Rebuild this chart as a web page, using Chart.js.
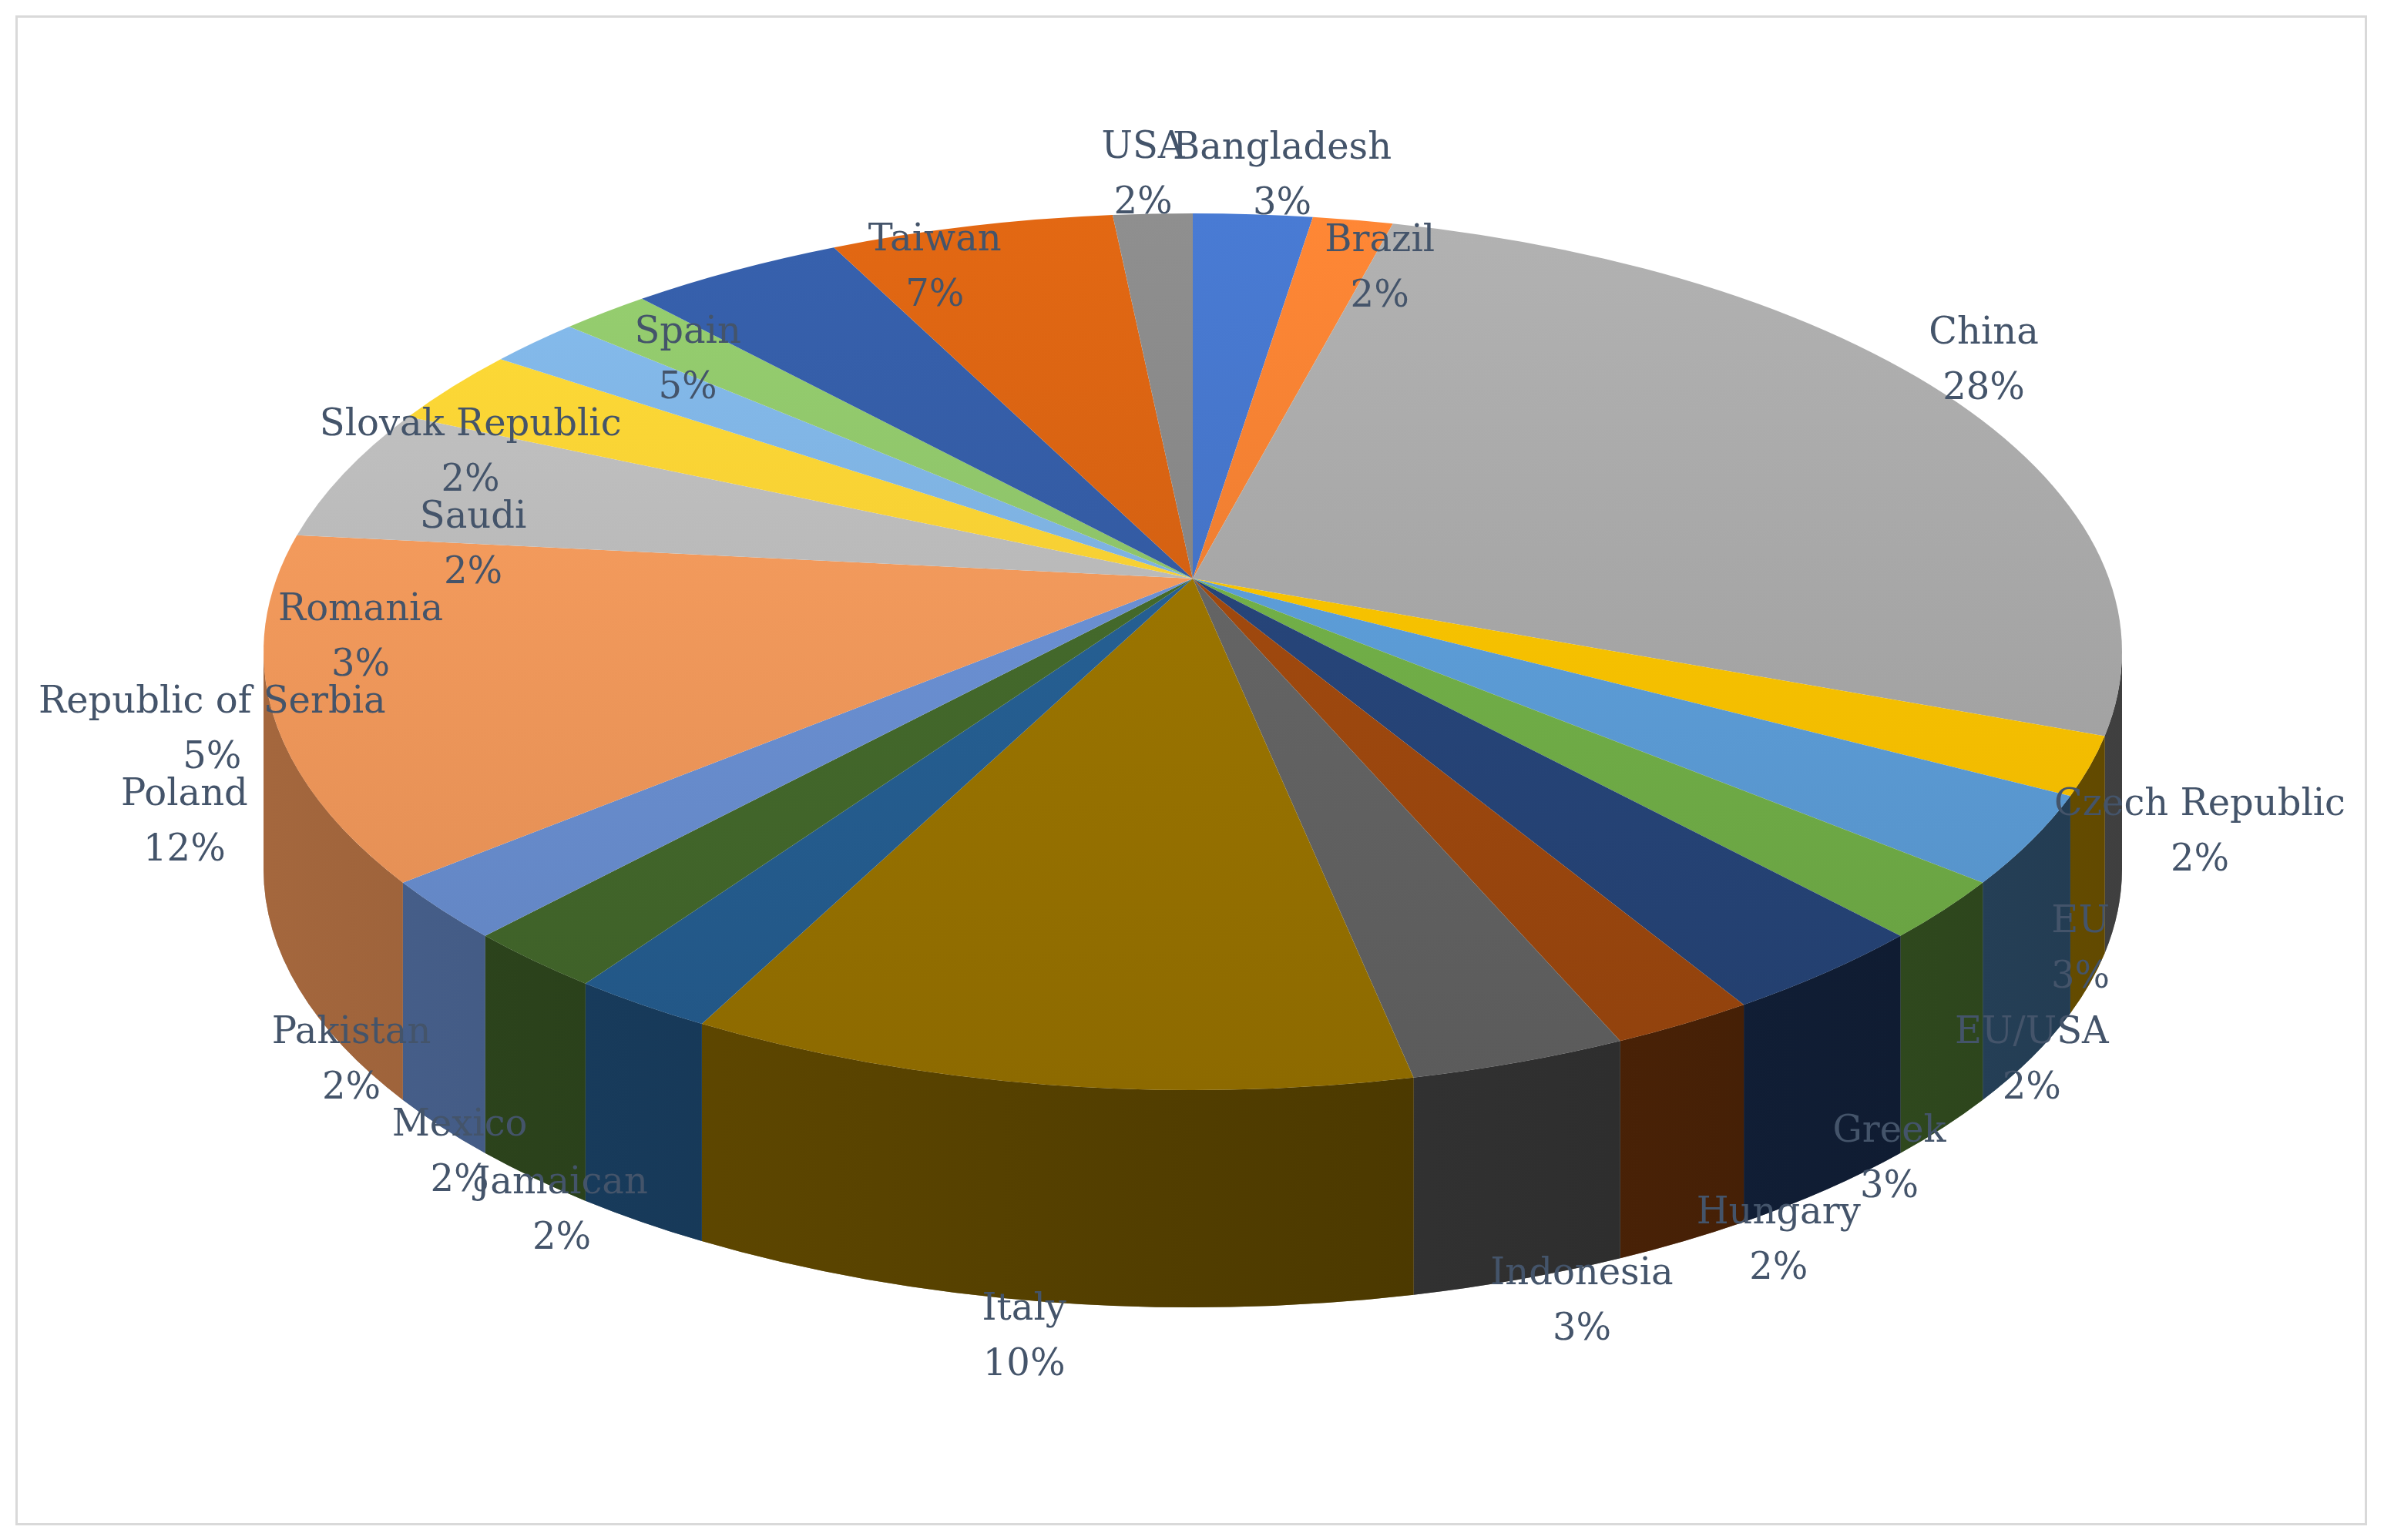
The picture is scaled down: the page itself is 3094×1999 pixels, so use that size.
<!DOCTYPE html>
<html>
<head>
<meta charset="utf-8">
<script src="https://cdn.jsdelivr.net/npm/chart.js@4"></script>
<style>
  html, body { margin: 0; padding: 0; background: #fff; }
  #frame { position: absolute; left: 20px; top: 20px; width: 3052px; height: 1960px; border: 3px solid #d9d9d9; box-sizing: border-box; }
  canvas { position: absolute; left: 0; top: 0; }
</style>
</head>
<body>
<div id="frame"></div>
<canvas id="grafico" width="3094" height="1999"></canvas>
<script>
// dados
const paises = ['Bangladesh', 'Brazil', 'China', 'Czech Republic', 'EU', 'EU/USA', 'Greek', 'Hungary',
  'Indonesia', 'Italy', 'Jamaican', 'Mexico', 'Pakistan', 'Poland', 'Republic of Serbia', 'Romania',
  'Saudi', 'Slovak Republic', 'Spain', 'Taiwan', 'USA'];
const percentuais = [3, 2, 28, 2, 3, 2, 3, 2, 3, 10, 2, 2, 2, 12, 5, 3, 2, 2, 5, 7, 2];
const cores = ['#4472C4', '#ED7D31', '#A5A5A5', '#FFC000', '#5B9BD5', '#70AD47', '#264478', '#9E480E',
  '#636363', '#997300', '#255E91', '#43682B', '#698ED0', '#F1975A', '#B7B7B7', '#FFCD33',
  '#7CAFDD', '#8CC168', '#335AA1', '#D26012', '#848484'];

function shade(hex, f) {
  const n = parseInt(hex.slice(1), 16);
  const r = Math.round(((n >> 16) & 255) * f), g = Math.round(((n >> 8) & 255) * f), b = Math.round((n & 255) * f);
  return `rgb(${Math.min(r,255)},${Math.min(g,255)},${Math.min(b,255)})`;
}

// perspectiva: fatias da frente ficam maiores
const persp = a => a - 0.3 * Math.cos(a);

// desenha a pizza em "3D" usando os ângulos dos arcos calculados pelo Chart.js
const pizza3d = {
  id: 'pizza3d',
  beforeDatasetsDraw(chart) {
    const ctx = chart.ctx;
    const arcs = chart.getDatasetMeta(0).data;
    const cx = 1548, apexY = 751, cy = 846, rx = 1206, ry = 569, depth = 282;

    // paredes laterais (metade da frente)
    arcs.forEach((arc, i) => {
      const t1 = Math.max(persp(arc.startAngle), 0), t2 = Math.min(persp(arc.endAngle), Math.PI);
      if (t2 <= t1) return;
      const g = ctx.createLinearGradient(cx - rx, 0, cx + rx, 0);
      g.addColorStop(0, shade(cores[i], 0.8));
      g.addColorStop(1, shade(cores[i], 0.3));
      ctx.beginPath();
      ctx.ellipse(cx, cy, rx, ry, 0, t1, t2);
      ctx.ellipse(cx, cy + depth, rx, ry, 0, t2, t1, true);
      ctx.closePath();
      ctx.fillStyle = shade(cores[i], 0.5);
      ctx.fill();
      ctx.fillStyle = g;
      ctx.globalAlpha = 0.6;
      ctx.fill();
      ctx.globalAlpha = 1;
    });

    // faces superiores
    arcs.forEach((arc, i) => {
      const g = ctx.createLinearGradient(0, cy - ry, 0, cy + ry);
      g.addColorStop(0, shade(cores[i], 1.08));
      g.addColorStop(1, shade(cores[i], 0.92));
      ctx.beginPath();
      ctx.moveTo(cx, apexY);
      ctx.ellipse(cx, cy, rx, ry, 0, persp(arc.startAngle), persp(arc.endAngle));
      ctx.closePath();
      ctx.fillStyle = g;
      ctx.fill();
    });

    // rótulos
    ctx.font = '48px "DejaVu Serif", "Liberation Serif", serif';
    ctx.fillStyle = '#44546A';
    ctx.textAlign = 'center';
    ctx.textBaseline = 'middle';
    const rotulos = arcs.map((arc, i) => {
      const t = persp((arc.startAngle + arc.endAngle) / 2);
      const c = Math.cos(t), s = Math.sin(t);
      const w = ctx.measureText(paises[i]).width;
      let x = cx + (rx + 30) * c + Math.sign(c) * (w / 2) * Math.sqrt(Math.abs(c));
      let y = cy + (ry + 50) * s + (s > 0 ? depth * s : 0) - 35;
      x = Math.max(w / 2 + 50, Math.min(3094 - w / 2 - 50, x));
      return { i, x, y, c, s, w };
    });
    const baixo = rotulos.filter(r => r.s > 0.75).sort((p, q) => p.x - q.x);
    for (let k = 1; k < baixo.length; k++) {
      const min = (baixo[k].w + baixo[k - 1].w) / 2 + 30;
      if (baixo[k].x - baixo[k - 1].x < min) baixo[k].x = baixo[k - 1].x + min;
    }
    [rotulos.filter(r => r.s <= 0.75 && r.c >= 0), rotulos.filter(r => r.s <= 0.75 && r.c < 0)].forEach(lado => {
      lado.sort((p, q) => p.y - q.y);
      for (let k = 1; k < lado.length; k++) {
        if (lado[k].y - lado[k - 1].y < 120) lado[k].y = lado[k - 1].y + 120;
      }
    });
    rotulos.forEach(r => {
      ctx.fillText(paises[r.i], r.x, r.y);
      ctx.fillText(percentuais[r.i] + '%', r.x, r.y + 72);
    });
    return false;
  }
};

new Chart(document.getElementById('grafico'), {
  type: 'pie',
  data: {
    labels: paises,
    datasets: [{ data: percentuais, backgroundColor: cores, borderWidth: 0 }]
  },
  options: {
    responsive: false,
    devicePixelRatio: 1,
    animation: false,
    plugins: { legend: { display: false }, tooltip: { enabled: false } }
  },
  plugins: [pizza3d]
});
</script>
</body>
</html>
